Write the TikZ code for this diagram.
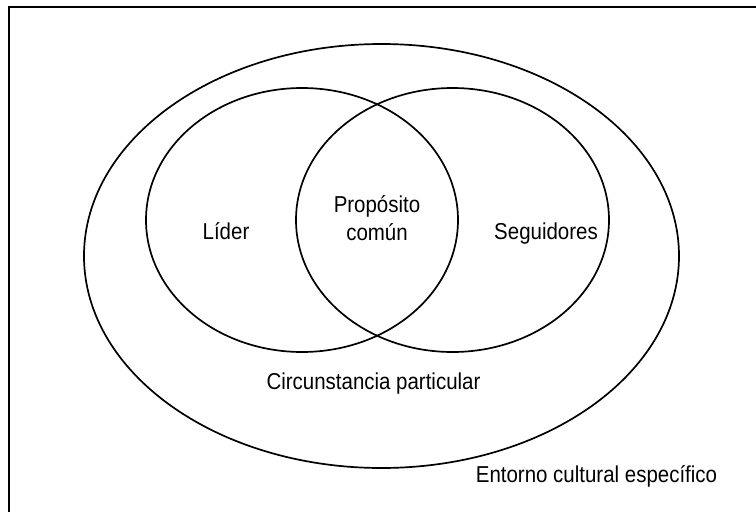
\documentclass[tikz,border=0pt]{standalone}
\usepackage{fontspec}
\setmainfont{Liberation Sans}
\newcommand{\narrowtxt}[1]{\scalebox{0.89}[1]{#1}}
\begin{document}
\begin{tikzpicture}[x=1pt,y=-1pt,
  ring/.style={line width=1.7pt},
  frameline/.style={line width=2.3pt},
  lbl/.style={anchor=base,inner sep=0pt,font=\fontsize{23}{28}\selectfont}]
\useasboundingbox (0,0) rectangle (756,512);
\clip (0,0) rectangle (756,512);
\fill[white] (0,0) rectangle (756,512);
\draw[frameline] (9,530) -- (9,7) -- (780,7);
\coordinate (outer) at (381.5,256);
\coordinate (lc) at (302,220);
\coordinate (rc) at (452.5,220);
\draw[ring] (outer) ellipse [x radius=297.5, y radius=212];
\draw[ring] (lc) ellipse [x radius=156, y radius=132];
\draw[ring] (rc) ellipse [x radius=156.5, y radius=132];
\node[lbl] (lider) at (226,239) {\narrowtxt{Líder}};
\node[lbl] (prop1) at (377,212) {\narrowtxt{Propósito}};
\node[lbl] (prop2) at (377,240) {\narrowtxt{común}};
\node[lbl] (seg) at (546,239) {\narrowtxt{Seguidores}};
\node[lbl] (circ) at (373.5,389) {\narrowtxt{Circunstancia particular}};
\node[lbl] (ent) at (596.5,482) {\narrowtxt{Entorno cultural específico}};
\end{tikzpicture}
\end{document}
